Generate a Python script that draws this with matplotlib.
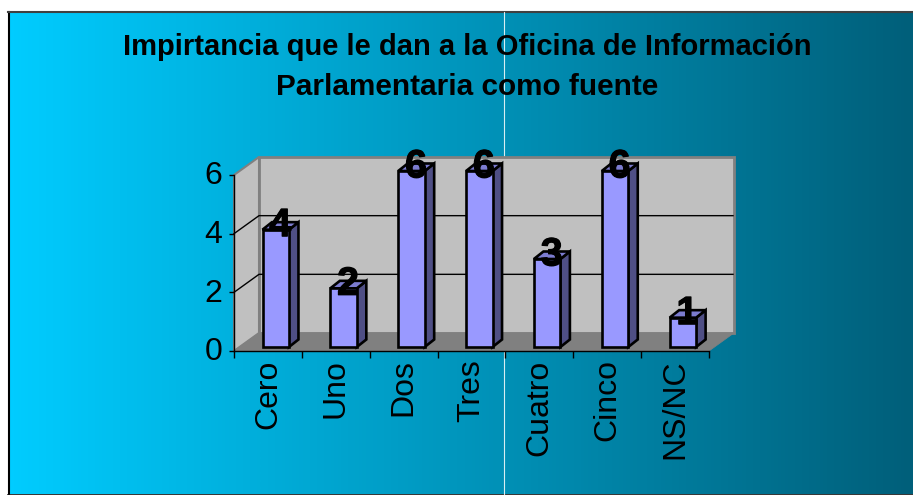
import numpy as np
import matplotlib
matplotlib.use("Agg")
import matplotlib.pyplot as plt
import matplotlib.patheffects as pe
from matplotlib.colors import LinearSegmentedColormap
from matplotlib.patches import Polygon, Rectangle
from matplotlib.transforms import ScaledTranslation

# Data
categories = ["Cero", "Uno", "Dos", "Tres", "Cuatro", "Cinco", "NS/NC"]
values = [4, 2, 6, 6, 3, 6, 1]
y_ticks = [0, 2, 4, 6]
title = "Impirtancia que le dan a la Oficina de Información\nParlamentaria como fuente"

plt.rcParams["font.family"] = ["Liberation Sans", "DejaVu Sans"]

W, H = 913, 495
fig = plt.figure(figsize=(W / 100, H / 100), dpi=100, facecolor="white")

# background gradient and frame
bg = fig.add_axes([0, 0, 1, 1], zorder=0)
bg.set_xlim(0, W)
bg.set_ylim(H, 0)
bg.axis("off")
cmap = LinearSegmentedColormap.from_list("bg", ["#00CCFF", "#005F7A"])
grad = np.linspace(0, 1, 256).reshape(1, -1)
bg.imshow(grad, cmap=cmap, extent=[9, W, 494, 12], aspect="auto", interpolation="bilinear")
bg.set_xlim(0, W)
bg.set_ylim(H, 0)
bg.plot([8.5, 8.5], [12, 494], color="black", lw=1.5)
bg.plot([8, W], [11.5, 11.5], color="#404040", lw=1.5)
bg.plot([8, W], [494.5, 494.5], color="#101010", lw=1.2)
bg.plot([503.5, 503.5], [12, 494], color="white", lw=0.8, alpha=0.85)
bg.text(467.5, 47, title.split("\n")[0], ha="center", va="center", fontsize=21, fontweight="bold", color="black")
bg.text(467, 87, title.split("\n")[1], ha="center", va="center", fontsize=21.4, fontweight="bold", color="black")

# front plane of the 3d box: x 234-709, y 351-175 in pixels
ax = fig.add_axes([234 / W, 1 - 351 / H, 475 / W, 176 / H], zorder=1)
ax.patch.set_alpha(0)
ax.set_xlim(0, len(categories))
ax.set_ylim(0, 6)

px = len(categories) / 475  # data units per pixel, x
py = 6 / 176  # data units per pixel, y
depth_x = 25 * px
depth_y = 18 * py

# floor and walls
n = len(categories)
ax.add_patch(Polygon([(0, 0), (depth_x, depth_y), (depth_x, 6 + depth_y), (0, 6)],
                     facecolor="#C0C0C0", edgecolor="#808080", lw=1.5, clip_on=False, zorder=1))
ax.add_patch(Rectangle((depth_x, depth_y), n, 6, facecolor="#C0C0C0", edgecolor="#808080",
                       lw=2, clip_on=False, zorder=1))
for t in y_ticks[1:-1]:
    ax.plot([0, depth_x, n + depth_x - 1 * px], [t, t + depth_y, t + depth_y], color="black", lw=1,
            clip_on=False, zorder=2)
ax.add_patch(Polygon([(0, 0), (n, 0), (n + depth_x, depth_y), (depth_x, depth_y)],
                     facecolor="#808080", edgecolor="#808080", lw=0.5, clip_on=False, zorder=2))

# bars
bar_left = 0.42
bar_w = 0.39
bar_dx = 9.5 * px
bar_dy = 7.5 * py
lift = 4 * py
lw_bar = 1.9
effect = [pe.withStroke(linewidth=0.8, foreground="black")]
for i, v in enumerate(values):
    x0 = i + bar_left
    x1 = x0 + bar_w
    y0 = lift
    y1 = v + lift
    ax.add_patch(Polygon([(x1, y0), (x1 + bar_dx, y0 + bar_dy), (x1 + bar_dx, y1 + bar_dy), (x1, y1)],
                         facecolor="#4F4F85", edgecolor="black", lw=lw_bar, joinstyle="miter",
                         clip_on=False, zorder=3))
    ax.add_patch(Polygon([(x0, y1), (x1, y1), (x1 + bar_dx, y1 + bar_dy), (x0 + bar_dx, y1 + bar_dy)],
                         facecolor="#7C7CD0", edgecolor="black", lw=lw_bar, joinstyle="miter",
                         clip_on=False, zorder=3))
    ax.add_patch(Rectangle((x0, y0), bar_w, v, facecolor="#9999FF", edgecolor="black", lw=lw_bar,
                           joinstyle="miter", clip_on=False, zorder=4))
    ax.text((x0 + x1) / 2 + 4.5 * px, y1 + 4.5 * py, str(v), ha="center", va="center", fontsize=28.5,
            fontweight="bold", color="black", clip_on=False, zorder=5, path_effects=effect)

# axes
for s in ["top", "right"]:
    ax.spines[s].set_visible(False)
for s in ["left", "bottom"]:
    ax.spines[s].set_linewidth(1)
    ax.spines[s].set_zorder(3)
ax.set_yticks(y_ticks)
ax.set_yticklabels([str(t) for t in y_ticks], fontsize=23)
ax.tick_params(axis="y", length=3.6, width=1, pad=5)
for lab in ax.get_yticklabels():
    lab.set_transform(lab.get_transform() + ScaledTranslation(0, 2 / 100, fig.dpi_scale_trans))
ax.set_xticks(np.arange(n + 1))
ax.set_xticklabels([])
ax.tick_params(axis="x", which="major", length=5, width=1)
ax.set_xticks(np.arange(n) + 0.5, minor=True)
ax.set_xticklabels(categories, minor=True, rotation=90, fontsize=23, va="top", ha="center")
ax.tick_params(axis="x", which="minor", length=0, pad=6)

fig.savefig("out.png", dpi=100)
